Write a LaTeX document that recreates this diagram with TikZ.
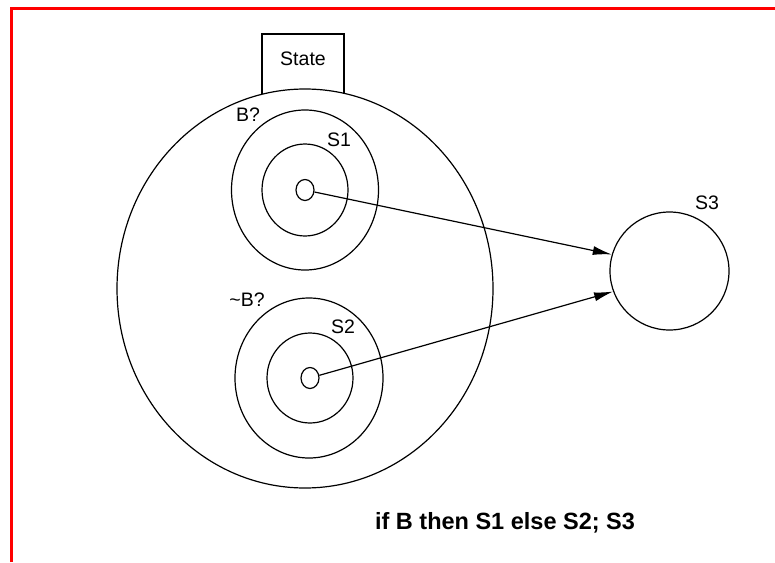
\documentclass[tikz,border=0pt]{standalone}
\usepackage{fontspec}
\setmainfont{Liberation Sans}
\usetikzlibrary{shapes.geometric,arrows.meta}
\begin{document}
\begin{tikzpicture}[x=1pt,y=-1pt,
  line width=1.2pt,
  ring/.style={draw, ellipse, inner sep=0pt, fill=white},
  lbl/.style={inner sep=0pt, font=\fontsize{19.5}{23}\selectfont},
  flow/.style={-{Latex[length=19pt,width=9pt]}, line width=1.2pt}]
  \useasboundingbox (0,0) rectangle (775,562);
  % frame
  \draw[red, line width=3pt] (11.5,562) -- (11.5,8.5) -- (775,8.5);
  % state tab behind the state space
  \node (statebox) [draw, fill=white, minimum width=82pt, minimum height=70pt, inner sep=0pt] at (303,69) {};
  \node (statelbl) [lbl] at (303,59) {State};
  % whole state space
  \node (space) [ring, minimum width=376pt, minimum height=399pt] at (305,288.5) {};
  % region where B holds
  \node (b)   [ring, minimum width=147pt, minimum height=160pt] at (305,190) {};
  \node (s1)  [ring, minimum width=86pt, minimum height=92pt] at (305,190) {};
  \node (s1c) [ring, minimum width=18pt, minimum height=21pt] at (305,190) {};
  % region where B fails
  \node (nb)  [ring, minimum width=148pt, minimum height=160pt] at (309,378) {};
  \node (s2)  [ring, minimum width=86pt, minimum height=90pt] at (310,378) {};
  \node (s2c) [ring, minimum width=18pt, minimum height=21pt] at (310,378) {};
  % following statement
  \node (s3)  [ring, minimum width=119pt, minimum height=118pt] at (669.5,271) {};
  % labels
  \node (blbl)  [lbl] at (248,115) {B?};
  \node (s1lbl) [lbl] at (339,140) {S1};
  \node (nblbl) [lbl] at (247,300) {\textasciitilde B?};
  \node (s2lbl) [lbl] at (343,327) {S2};
  \node (s3lbl) [lbl] at (707,203) {S3};
  % transitions
  \draw[flow] (s1c) -- (s3.164);
  \draw[flow] (s2c) -- (s3.200);
  % caption
  \node (caption) [inner sep=0pt, font=\fontsize{23.5}{27}\selectfont\bfseries] at (505,523) {if B then S1 else S2; S3};
\end{tikzpicture}
\end{document}
